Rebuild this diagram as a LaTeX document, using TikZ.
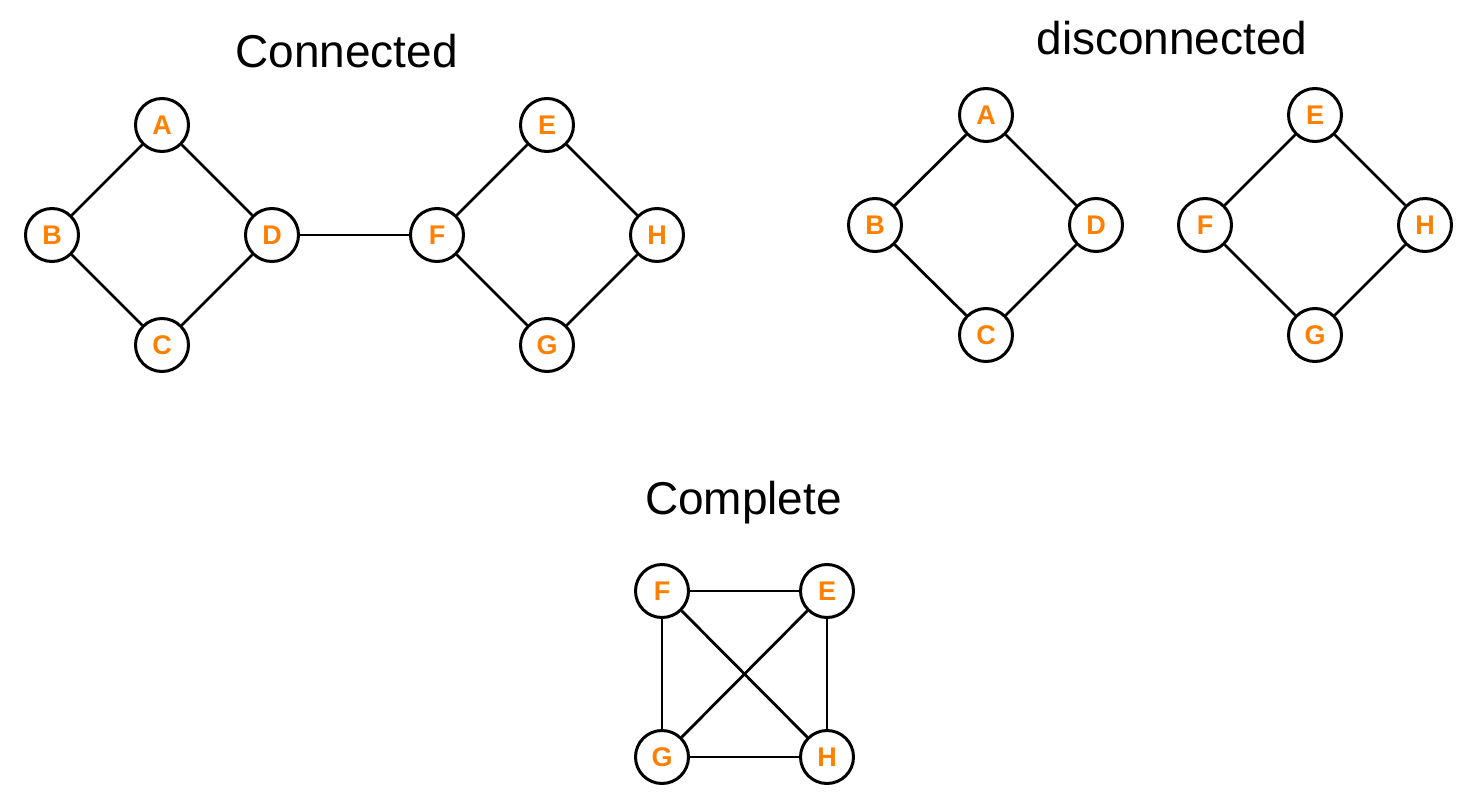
\documentclass[tikz,border=0pt]{standalone}
\usepackage{fontspec}
\setmainfont{Liberation Sans}
\definecolor{nodeorange}{RGB}{255,128,0}
\begin{document}
\begin{tikzpicture}[x=1pt,y=-1pt,
  vert/.style={circle,draw=black,line width=3pt,fill=white,minimum size=53pt,inner sep=0pt,
    font=\fontsize{27}{29}\selectfont\bfseries,text=nodeorange},
  edge/.style={line width=2.8pt,black},
  title/.style={anchor=base,font=\fontsize{46}{50}\selectfont,text=black}]
\useasboundingbox (0,0) rectangle (1473,808);
% titles
\node[title] (t1) at (346.5,67) {Connected};
\node[title] (t2) at (1172,55) {disconnected};
\node[title] (t3) at (743.5,514) {Complete};
% connected graph
\node[vert] (cA) at (162,125) {A};
\node[vert] (cB) at (52,235) {B};
\node[vert] (cD) at (272,235) {D};
\node[vert] (cC) at (162,345) {C};
\node[vert] (cF) at (437,235) {F};
\node[vert] (cE) at (547,125) {E};
\node[vert] (cH) at (657,235) {H};
\node[vert] (cG) at (547,345) {G};
\draw[edge] (cA) -- (cB);
\draw[edge] (cA) -- (cD);
\draw[edge] (cB) -- (cC);
\draw[edge] (cD) -- (cC);
\draw[edge] (cD) -- (cF);
\draw[edge] (cF) -- (cE);
\draw[edge] (cE) -- (cH);
\draw[edge] (cF) -- (cG);
\draw[edge] (cH) -- (cG);
% disconnected graph
\node[vert] (dA) at (986,115) {A};
\node[vert] (dB) at (875,225) {B};
\node[vert] (dD) at (1096,225) {D};
\node[vert] (dC) at (986,335) {C};
\node[vert] (dE) at (1315,115) {E};
\node[vert] (dF) at (1205,225) {F};
\node[vert] (dH) at (1425,225) {H};
\node[vert] (dG) at (1315,335) {G};
\draw[edge] (dA) -- (dB);
\draw[edge] (dA) -- (dD);
\draw[edge] (dB) -- (dC);
\draw[edge] (dD) -- (dC);
\draw[edge] (dE) -- (dF);
\draw[edge] (dE) -- (dH);
\draw[edge] (dF) -- (dG);
\draw[edge] (dH) -- (dG);
% complete graph
\node[vert] (kF) at (662,591) {F};
\node[vert] (kE) at (827,591) {E};
\node[vert] (kG) at (662,757) {G};
\node[vert] (kH) at (827,757) {H};
\draw[edge] (kF) -- (kE);
\draw[edge] (kF) -- (kG);
\draw[edge] (kF) -- (kH);
\draw[edge] (kE) -- (kG);
\draw[edge] (kE) -- (kH);
\draw[edge] (kG) -- (kH);
\end{tikzpicture}
\end{document}
